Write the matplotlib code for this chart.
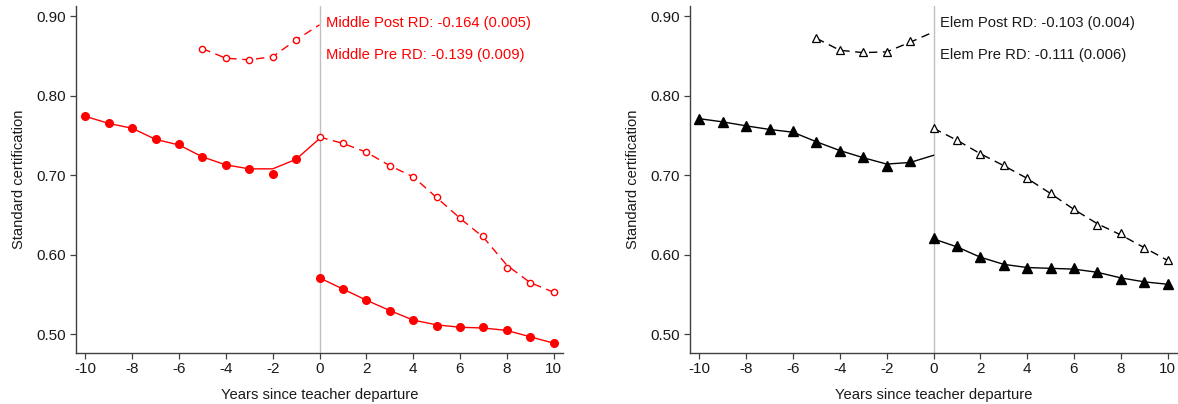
import matplotlib
matplotlib.use("Agg")
import matplotlib.pyplot as plt
import numpy as np

plt.rcParams['font.family'] = ['Liberation Sans', 'DejaVu Sans']

# ---------------- data ----------------
x_pre = list(range(-10, 0))          # -10 .. -1
x_pre_fit = list(range(-10, 1))      # -10 .. 0
x_pre_short = list(range(-5, 0))     # -5 .. -1
x_pre_short_fit = list(range(-5, 1)) # -5 .. 0
x_post = list(range(0, 11))          # 0 .. 10

# Middle school (left panel, red)
mid_pre_solid = [0.774, 0.765, 0.759, 0.745, 0.739, 0.723, 0.713, 0.708, 0.701, 0.720]
mid_pre_solid_fit = [0.774, 0.765, 0.759, 0.745, 0.738, 0.723, 0.713, 0.708, 0.708, 0.720, 0.746]
mid_pre_open = [0.859, 0.847, 0.845, 0.849, 0.870]
mid_pre_open_fit = [0.859, 0.847, 0.845, 0.849, 0.870, 0.889]
mid_post_open = [0.748, 0.740, 0.729, 0.712, 0.698, 0.672, 0.646, 0.623, 0.583, 0.564, 0.553]
mid_post_open_fit = [0.748, 0.740, 0.729, 0.712, 0.698, 0.672, 0.646, 0.622, 0.587, 0.565, 0.553]
mid_post_solid = [0.571, 0.557, 0.543, 0.530, 0.518, 0.511, 0.509, 0.509, 0.506, 0.497, 0.489]
mid_post_solid_fit = [0.571, 0.557, 0.543, 0.530, 0.518, 0.512, 0.509, 0.508, 0.505, 0.497, 0.489]

# Elementary school (right panel, black)
elem_pre_solid = [0.771, 0.767, 0.762, 0.7575, 0.755, 0.742, 0.731, 0.723, 0.711, 0.718]
elem_pre_solid_fit = [0.771, 0.767, 0.762, 0.7575, 0.754, 0.742, 0.731, 0.722, 0.714, 0.716, 0.725]
elem_pre_open = [0.872, 0.857, 0.855, 0.855, 0.868]
elem_pre_open_fit = [0.872, 0.857, 0.854, 0.855, 0.867, 0.880]
elem_post_open = [0.759, 0.744, 0.727, 0.713, 0.697, 0.678, 0.657, 0.637, 0.628, 0.608, 0.593]
elem_post_open_fit = [0.759, 0.744, 0.727, 0.712, 0.696, 0.677, 0.657, 0.639, 0.625, 0.609, 0.593]
elem_post_solid = [0.621, 0.611, 0.597, 0.587, 0.584, 0.584, 0.583, 0.579, 0.570, 0.566, 0.563]
elem_post_solid_fit = [0.620, 0.610, 0.597, 0.588, 0.584, 0.583, 0.582, 0.578, 0.571, 0.566, 0.563]

mid_labels = ["Middle Post RD: -0.164 (0.005)", "Middle Pre RD: -0.139 (0.009)"]
elem_labels = ["Elem Post RD: -0.103 (0.004)", "Elem Pre RD: -0.111 (0.006)"]

xticks = list(range(-10, 11, 2))
yticks = [0.5, 0.6, 0.7, 0.8, 0.9]
ytick_labels = ["0.50", "0.60", "0.70", "0.80", "0.90"]

# ---------------- figure ----------------
fig = plt.figure(figsize=(11.78, 4.04), dpi=100)
ax1 = fig.add_axes([76/1178, (404-352.7)/404, 487/1178, 346.7/404])
ax2 = fig.add_axes([690/1178, (404-352.7)/404, 487/1178, 346.7/404])

dash = (0, (6, 4))
lw = 1.0
FS_TICK = 11
FS_LAB = 10.6
FS_TXT = 10.6


def style(ax):
    ax.set_xlim(-10.4, 10.4)
    ax.set_ylim(0.477, 0.9126)
    for s in ['top', 'right']:
        ax.spines[s].set_visible(False)
    for s in ['left', 'bottom']:
        ax.spines[s].set_color('#404040')
        ax.spines[s].set_linewidth(1.0)
    ax.set_xticks(xticks)
    ax.set_xticklabels([str(t) for t in xticks])
    ax.set_yticks(yticks)
    ax.set_yticklabels(ytick_labels)
    ax.tick_params(axis='both', length=4, width=0.9, color='#404040',
                   labelsize=FS_TICK, labelcolor='#1a1a1a', pad=3)
    ax.axvline(0, color='#c0c0c0', lw=1.0, zorder=0)
    ax.set_xlabel("Years since teacher departure", fontsize=FS_LAB, labelpad=8, color='#1a1a1a')
    ax.set_ylabel("Standard certification", fontsize=FS_LAB, labelpad=8, color='#1a1a1a')


# Left panel: Middle
c = 'red'
ax1.plot(x_pre_fit, mid_pre_solid_fit, color=c, lw=lw, zorder=2)
ax1.plot(x_pre, mid_pre_solid, 'o', color=c, ms=5.5, zorder=3)
ax1.plot(x_pre_short_fit, mid_pre_open_fit, color=c, lw=lw, ls=dash, zorder=2)
ax1.plot(x_pre_short, mid_pre_open, 'o', mfc='white', mec=c, mew=1.0, ms=4.5, zorder=3)
ax1.plot(x_post, mid_post_open_fit, color=c, lw=lw, ls=dash, zorder=2)
ax1.plot(x_post, mid_post_open, 'o', mfc='white', mec=c, mew=1.0, ms=4.5, zorder=3)
ax1.plot(x_post, mid_post_solid_fit, color=c, lw=lw, zorder=2)
ax1.plot(x_post, mid_post_solid, 'o', color=c, ms=5.5, zorder=3)
ax1.text(0.29, 0.891, mid_labels[0], color=c, fontsize=FS_TXT, va='center', ha='left')
ax1.text(0.29, 0.851, mid_labels[1], color=c, fontsize=FS_TXT, va='center', ha='left')
style(ax1)

# Right panel: Elementary
c = 'black'
ax2.plot(x_pre_fit, elem_pre_solid_fit, color=c, lw=lw, zorder=2)
ax2.plot(x_pre, elem_pre_solid, '^', color=c, ms=6.5, zorder=3)
ax2.plot(x_pre_short_fit, elem_pre_open_fit, color=c, lw=lw, ls=dash, zorder=2)
ax2.plot(x_pre_short, elem_pre_open, '^', mfc='white', mec=c, mew=0.9, ms=5.5, zorder=3)
ax2.plot(x_post, elem_post_open_fit, color=c, lw=lw, ls=dash, zorder=2)
ax2.plot(x_post, elem_post_open, '^', mfc='white', mec=c, mew=0.9, ms=5.5, zorder=3)
ax2.plot(x_post, elem_post_solid_fit, color=c, lw=lw, zorder=2)
ax2.plot(x_post, elem_post_solid, '^', color=c, ms=6.5, zorder=3)
ax2.text(0.29, 0.891, elem_labels[0], color='#1a1a1a', fontsize=FS_TXT, va='center', ha='left')
ax2.text(0.29, 0.851, elem_labels[1], color='#1a1a1a', fontsize=FS_TXT, va='center', ha='left')
style(ax2)

fig.savefig("out.png", dpi=100, facecolor='white')
